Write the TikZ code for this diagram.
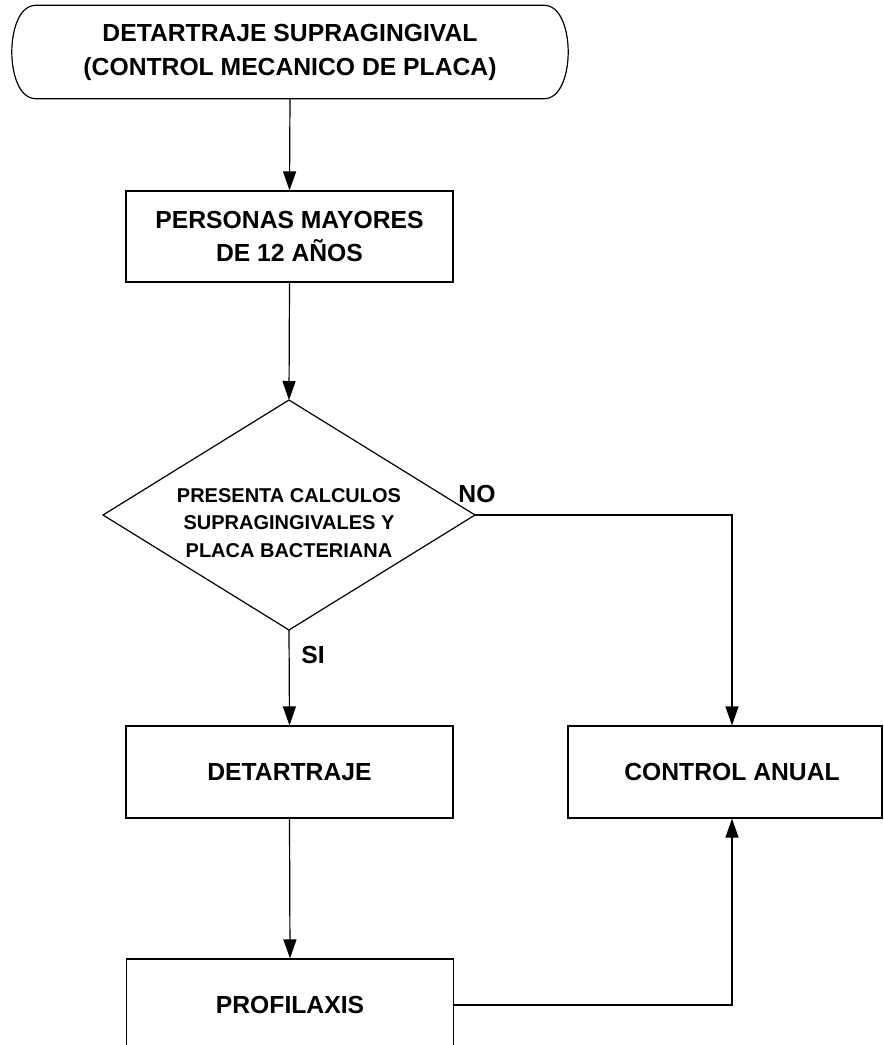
\documentclass[tikz,border=0pt]{standalone}
\usepackage{fontspec}
\setmainfont{Liberation Sans}
\usetikzlibrary{arrows.meta}
\tikzset{
  conn/.style={line width=1.2pt, -{Triangle[length=19pt,width=13pt]}},
  plainline/.style={line width=1.2pt},
  boxstyle/.style={draw, line width=1.2pt, rectangle, minimum width=327pt, minimum height=92pt, inner sep=0pt, align=center, font=\fontsize{24.7}{33}\selectfont\bfseries},
  dectext/.style={inner sep=0pt, align=center, font=\fontsize{20}{27.5}\selectfont\bfseries},
  lbl/.style={inner sep=0pt, font=\fontsize{24.7}{30}\selectfont\bfseries}
}
\begin{document}
\begin{tikzpicture}[x=1pt,y=-1pt]
\useasboundingbox (0,0) rectangle (884,1045);
\clip (0,0) rectangle (884,1045);
% start terminal
\node[name=term, minimum width=508pt, minimum height=93pt, inner sep=0pt, align=center, font=\fontsize{24.7}{34}\selectfont\bfseries] at (290,52) {DETARTRAJE SUPRAGINGIVAL\\(CONTROL MECANICO DE PLACA)};
\draw[plainline] (term.north west) -- (term.north east)
  .. controls +(32pt,0pt) and +(32pt,0pt) .. (term.south east)
  -- (term.south west)
  .. controls +(-32pt,0pt) and +(-32pt,0pt) .. (term.north west);
% boxes
\node[boxstyle, minimum height=91pt] (p1) at (289.5,236.5) {PERSONAS MAYORES\\DE 12 AÑOS};
% decision
\coordinate (dn) at (289,400);
\coordinate (ds) at (289,630);
\coordinate (dw) at (103,515);
\coordinate (de) at (475,515);
\draw[plainline] (dn) -- (de) -- (ds) -- (dw) -- cycle;
\node[dectext] (dia) at (289,523) {PRESENTA CALCULOS\\SUPRAGINGIVALES Y\\PLACA BACTERIANA};
\node[boxstyle] (det) at (289.5,772) {DETARTRAJE};
\node[boxstyle, minimum width=314pt] (ctrl) at (725,772) {\hspace*{14pt}CONTROL ANUAL};
\node[boxstyle] (prof) at (290,1005) {PROFILAXIS};
% labels
\node[lbl] (no) at (477,494) {NO};
\node[lbl] (si) at (313,655) {SI};
% connectors
\draw[conn] (term.south) -- (p1.north);
\draw[conn] (p1.south) -- (dn);
\draw[conn] (ds) -- (det.north);
\draw[conn] (det.south) -- (prof.north);
\draw[conn] (de) -| ([xshift=7pt]ctrl.north);
\draw[conn] (prof.east) -| ([xshift=7pt]ctrl.south);
\end{tikzpicture}
\end{document}
